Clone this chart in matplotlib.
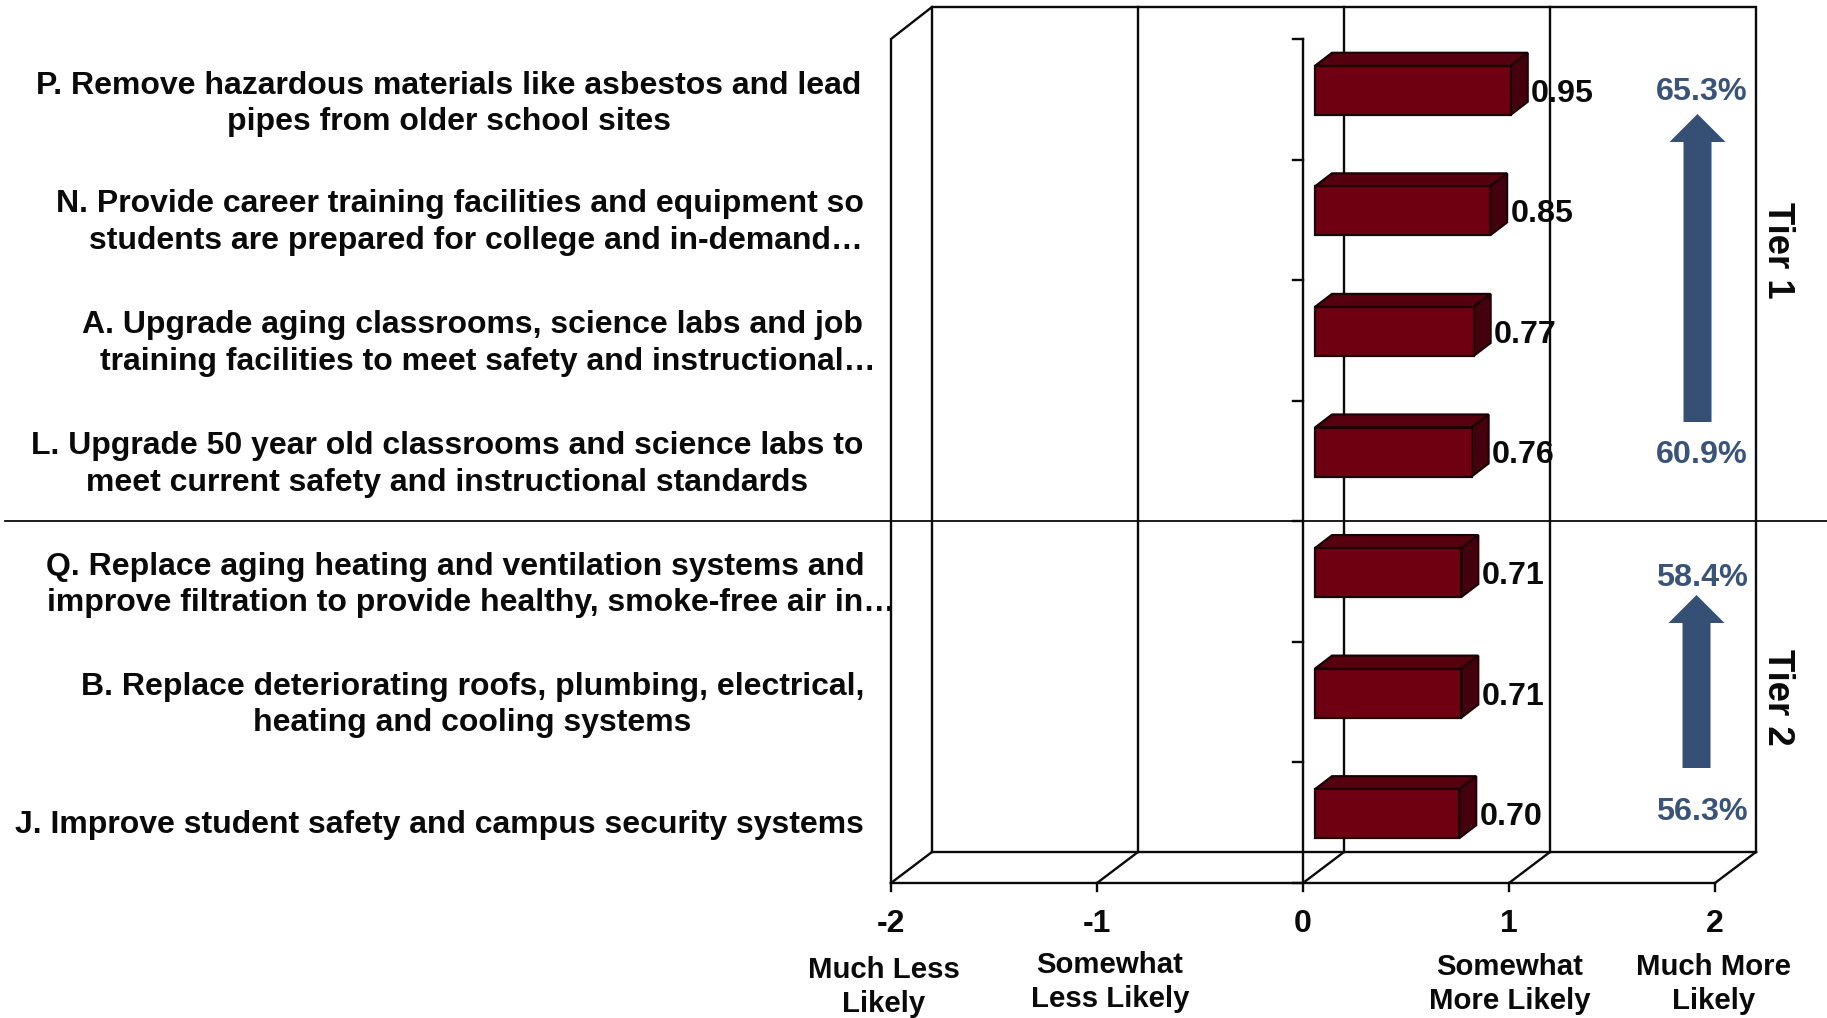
import matplotlib
matplotlib.use("Agg")
import matplotlib.pyplot as plt
from matplotlib.patches import Polygon

plt.rcParams['font.family'] = ['Liberation Sans', 'DejaVu Sans']

# ---- data ----
item_lines = [
    ["P. Remove hazardous materials like asbestos and lead", "pipes from older school sites"],
    ["N. Provide career training facilities and equipment so", "students are prepared for college and in-demand…"],
    ["A. Upgrade aging classrooms, science labs and job", "training facilities to meet safety and instructional…"],
    ["L. Upgrade 50 year old classrooms and science labs to", "meet current safety and instructional standards"],
    ["Q. Replace aging heating and ventilation systems and", "improve filtration to provide healthy, smoke-free air in…"],
    ["B. Replace deteriorating roofs, plumbing, electrical,", "heating and cooling systems"],
    ["J. Improve student safety and campus security systems"],
]
values = [0.95, 0.85, 0.77, 0.76, 0.71, 0.71, 0.70]
x_ticks = [-2, -1, 0, 1, 2]
scale_labels = ["Much Less\nLikely", "Somewhat\nLess Likely", "Somewhat\nMore Likely", "Much More\nLikely"]
tier_names = ["Tier 1", "Tier 2"]
tier_high = ["65.3%", "58.4%"]
tier_low = ["60.9%", "56.3%"]

# ---- layout (pixels of the 1827x1018 canvas) ----
W, H = 1827, 1018
FL, FR, FT, FB = 891, 1715, 39, 883      # front plane of the plot box
WALL_DX, WALL_DY = 41, 31                # depth of the box
BAR_OX, BAR_OY = 12, 9                   # bar offset inside the box
BAR_DX, BAR_DY = 17, 13                  # bar depth
BAR_H = 49
INK = "#0a0a0a"
BLUE = "#3A5379"
ARROW = "#355074"
FS = 23.0

fig = plt.figure(figsize=(W / 100, H / 100), dpi=100, facecolor="white")
ax = fig.add_axes([FL / W, 1 - FB / H, (FR - FL) / W, (FB - FT) / H])
n = len(values)
ax.set_xlim(x_ticks[0], x_ticks[-1])
ax.set_ylim(0, n)
ax.axis("off")

ux = (FR - FL) / (x_ticks[-1] - x_ticks[0])   # px per x unit
uy = (FB - FT) / n                            # px per band
wx, wy = WALL_DX / ux, WALL_DY / uy
LW = 1.7
kw = dict(color=INK, lw=LW, clip_on=False, solid_capstyle="projecting", solid_joinstyle="miter")

# rear wall
xl, xr = x_ticks[0], x_ticks[-1]
ceil = (FB - 7) / uy
ax.plot([xl + wx, xl + wx, xr + wx, xr + wx], [wy, ceil, ceil, wy], **kw)
ax.plot([xl + wx, xr + wx], [wy, wy], **kw)
# side wall edge
ax.plot([xl, xl, xl + wx], [0, n, ceil], **kw)
# floor front
ax.plot([xl, xr], [0, 0], **kw)
for t in x_ticks:
    if t not in (x_ticks[0], x_ticks[-1]):
        ax.plot([t + wx, t + wx], [wy, ceil], **kw)
    ax.plot([t, t + wx], [0, wy], **kw)
    ax.plot([t, t], [0, -8 / uy], **kw)
    ax.text(t, -41 / uy, str(t), ha="center", va="center", fontsize=FS, fontweight="bold", color=INK, clip_on=False)

# y axis
ax.plot([0, 0], [0, n], **kw)
for i in range(n + 1):
    ax.plot([0, -10 / ux], [i, i], **kw)

# bars
bx, by = BAR_OX / ux, BAR_OY / uy
dx, dy = BAR_DX / ux, BAR_DY / uy
h = BAR_H / uy
for i, v in enumerate(values):
    yc = n - 0.5 - i + by
    y0, y1 = yc - h / 2, yc + h / 2
    x0, x1 = bx, v + bx
    pk = dict(edgecolor="#1a0005", lw=1.6, clip_on=False, joinstyle="miter", zorder=3)
    ax.add_patch(Polygon([(x0, y1), (x1, y1), (x1 + dx, y1 + dy), (x0 + dx, y1 + dy)], facecolor="#56000F", **pk))
    ax.add_patch(Polygon([(x1, y0), (x1, y1), (x1 + dx, y1 + dy), (x1 + dx, y0 + dy)], facecolor="#45000E", **pk))
    ax.add_patch(Polygon([(x0, y0), (x1, y0), (x1, y1), (x0, y1)], facecolor="#6E0012", **pk))
    ax.annotate(f"{v:.2f}", (x1 + dx, yc), xytext=(2.5, -2.5), textcoords="offset points",
                ha="left", va="center", fontsize=FS + 0.2, fontweight="bold", color=INK, zorder=4)


def ftext(x, y, s, **k):
    k.setdefault("ha", "center")
    k.setdefault("va", "center")
    k.setdefault("fontweight", "bold")
    k.setdefault("fontsize", FS)
    k.setdefault("color", INK)
    return fig.text(x / W, 1 - y / H, s, **k)


# item labels
item_centers = [
    [(449, 85.5), (449, 122)],
    [(460, 204.5), (476, 241)],
    [(473, 325.5), (488, 362)],
    [(447, 446.5), (447, 483)],
    [(455, 566.5), (471, 603)],
    [(472.5, 686.5), (472.5, 723.5)],
    [(439, 824.5)],
]
for lines, centers in zip(item_lines, item_centers):
    for s, (x, y) in zip(lines, centers):
        ftext(x, y, s, zorder=5)

# divider
fig.add_artist(plt.Line2D([5 / W, 1], [1 - 521 / H] * 2, color=INK, lw=1.3))

# scale labels
scale_pos = [(884, 987), (1110, 982), (1510, 984), (1714, 984)]
for s, (x, y) in zip(scale_labels, scale_pos):
    ftext(x, y, s, multialignment="center", fontsize=21.2, linespacing=1.25)

# tier labels
for s, y in zip(tier_names, (250, 697)):
    ftext(1778, y, s, rotation=270, fontsize=26.3)

# percentages
for s, y in zip(tier_high, (91.5, 577.5)):
    ftext(1701.5, y, s, color=BLUE, fontsize=23.3)
for s, y in zip(tier_low, (455.5, 811.5)):
    ftext(1701.5, y, s, color=BLUE, fontsize=23.3)


def up_arrow(xc, tip, base, bottom):
    hw, sw = 28, 14
    pts = [(xc, tip), (xc + hw, base), (xc + sw, base), (xc + sw, bottom),
           (xc - sw, bottom), (xc - sw, base), (xc - hw, base)]
    fig.add_artist(Polygon([(a / W, 1 - b / H) for a, b in pts], closed=True, transform=fig.transFigure,
                           facecolor=ARROW, edgecolor="none"))


up_arrow(1697.5, 114, 142, 422)
up_arrow(1696.5, 595, 623, 768)

fig.savefig("out.png", dpi=100, facecolor="white")
